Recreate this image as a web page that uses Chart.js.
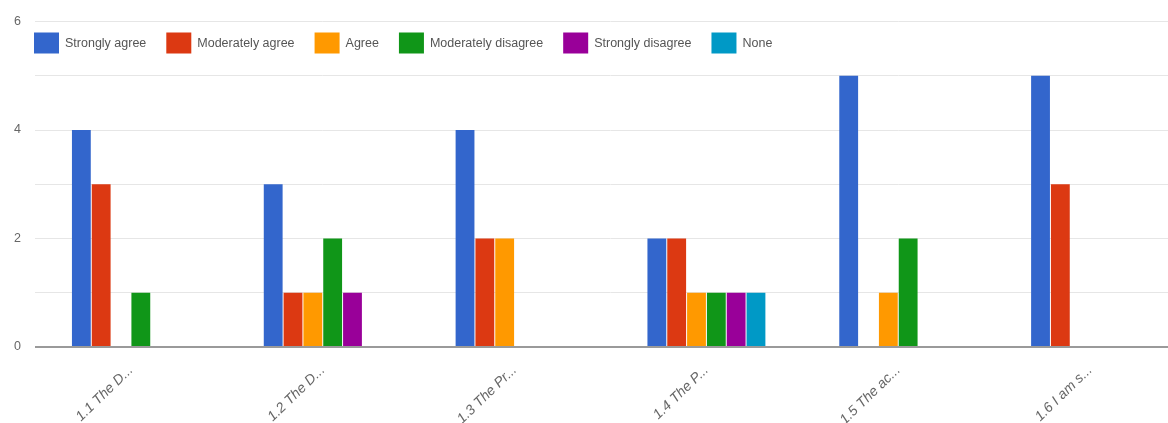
<!DOCTYPE html>
<html>
<head>
<meta charset="utf-8">
<script src="https://cdn.jsdelivr.net/npm/chart.js@4"></script>
<style>
  body { margin: 0; overflow: hidden; background: #fff; }
  #wrap { width: 1186px; height: 423px; position: relative; }
</style>
</head>
<body>
<div id="wrap"><canvas id="chart"></canvas></div>
<script>
const questions = ['1.1 The D...', '1.2 The D...', '1.3 The Pr...', '1.4 The P...', '1.5 The ac...', '1.6 I am s...'];

const stronglyAgree      = [4, 3, 4, 2, 5, 5];
const moderatelyAgree    = [3, 1, 2, 2, 0, 3];
const agree              = [0, 1, 2, 1, 1, 0];
const moderatelyDisagree = [1, 2, 0, 1, 2, 0];
const stronglyDisagree   = [0, 1, 0, 1, 0, 0];
const none               = [0, 0, 0, 1, 0, 0];

const COLORS = {
  'Strongly agree': '#3366cc',
  'Moderately agree': '#dc3912',
  'Agree': '#ff9900',
  'Moderately disagree': '#109618',
  'Strongly disagree': '#990099',
  'None': '#0099c6',
};

const series = [
  ['Strongly agree', stronglyAgree],
  ['Moderately agree', moderatelyAgree],
  ['Agree', agree],
  ['Moderately disagree', moderatelyDisagree],
  ['Strongly disagree', stronglyDisagree],
  ['None', none],
];

// legend drawn inside the plot, above the bars, like the google chart
const insideLegend = {
  id: 'insideLegend',
  afterDraw(chart) {
    const ctx = chart.ctx;
    const area = chart.chartArea;
    let x = area.left - 1;
    const y = area.top + 11;
    ctx.save();
    ctx.font = '12.5px "Liberation Sans", Arial, sans-serif';
    ctx.textBaseline = 'middle';
    chart.data.datasets.forEach(ds => {
      ctx.fillStyle = ds.backgroundColor;
      ctx.fillRect(x, y, 25, 21);
      ctx.fillStyle = '#555';
      ctx.fillText(ds.label, x + 31, y + 11);
      x += 31 + ctx.measureText(ds.label).width + 20;
    });
    ctx.restore();
  }
};

const chartConfig = {
  type: 'bar',
  data: {
    labels: questions,
    datasets: series.map(([name, values]) => ({
      label: name,
      data: values,
      backgroundColor: COLORS[name],
      categoryPercentage: 0.62,
      barPercentage: 0.95,
    })),
  },
  options: {
    responsive: true,
    maintainAspectRatio: false,
    animation: false,
    layout: { padding: { top: 21, right: 0, left: 0, bottom: 0 } },
    plugins: {
      legend: { display: false },
      tooltip: { enabled: false },
    },
    scales: {
      x: {
        grid: { display: false },
        border: { display: false },
        ticks: {
          color: '#666',
          font: { family: '"Liberation Sans", Arial, sans-serif', size: 14, style: 'italic' },
          minRotation: 44,
          maxRotation: 44,
          padding: 7,
        },
        afterFit: scale => { scale.height = 76; },
      },
      y: {
        min: 0,
        max: 6,
        border: { display: false },
        grid: {
          drawTicks: false,
          color: c => c.tick.value === 0 ? '#9a9a9a' : '#e6e6e6',
          lineWidth: c => c.tick.value === 0 ? 2 : 1,
        },
        ticks: {
          stepSize: 1,
          padding: 14,
          color: '#666',
          font: { family: '"Liberation Sans", Arial, sans-serif', size: 12.5 },
          callback: v => v % 2 === 0 ? v : '',
        },
        afterFit: scale => { scale.width = 35; },
      },
    },
  },
  plugins: [insideLegend],
};

new Chart(document.getElementById('chart'), chartConfig);
</script>
</body>
</html>
